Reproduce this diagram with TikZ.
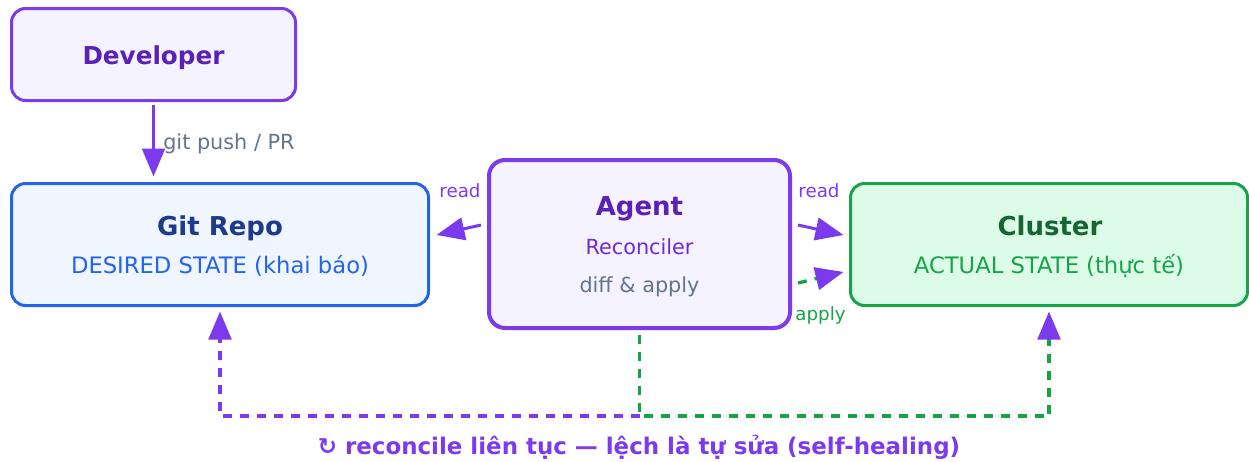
\documentclass[tikz,border=0pt]{standalone}
\usepackage{fontspec}
\setmainfont{DejaVu Sans}
\usetikzlibrary{arrows.meta}

\definecolor{violet}{HTML}{7C3AED}
\definecolor{violetdark}{HTML}{5B21B6}
\definecolor{violetmid}{HTML}{6D28D9}
\definecolor{violetfill}{HTML}{F5F3FF}
\definecolor{bluefg}{HTML}{2563EB}
\definecolor{bluedark}{HTML}{1E3A8A}
\definecolor{bluefill}{HTML}{EFF6FF}
\definecolor{greenfg}{HTML}{16A34A}
\definecolor{greendark}{HTML}{166534}
\definecolor{greenfill}{HTML}{DCFCE7}
\definecolor{slate}{HTML}{64748B}

\begin{document}
\begin{tikzpicture}[
  x=0.75pt, y=-0.75pt,
  box/.style={draw, line width=2.25pt, rounded corners=10.5pt, inner sep=0pt},
  title/.style={anchor=base, inner sep=0pt, font=\fontsize{19.5pt}{22pt}\selectfont\bfseries},
  sub/.style={anchor=base, inner sep=0pt, font=\fontsize{17pt}{20pt}\selectfont},
  note/.style={anchor=base, inner sep=0pt, font=\fontsize{15.6pt}{18pt}\selectfont},
  tag/.style={anchor=base, inner sep=0pt, font=\fontsize{13.7pt}{16pt}\selectfont},
  arr/.style={draw=violet, line width=2.25pt, -{Triangle[length=21pt, width=17pt, color=violet]}},
  loopline/.style={line width=2.5pt, dash pattern=on 6.75pt off 6pt},
]
  \useasboundingbox (0,0) rectangle (1249,461);

  % boxes
  \node[box, draw=violet, fill=violetfill, minimum width=213pt, minimum height=69pt] (dev) at (153.5,54.5) {};
  \node[box, draw=bluefg, fill=bluefill, minimum width=312.75pt, minimum height=91.5pt] (git) at (220,244.5) {};
  \node[box, draw=violet, fill=violetfill, line width=3pt, rounded corners=12pt, minimum width=225.75pt, minimum height=126pt] (agent) at (639.5,244) {};
  \node[box, draw=greenfg, fill=greenfill, minimum width=297.75pt, minimum height=91.5pt] (cluster) at (1049,244.5) {};

  % box texts
  \node[title, text=violetdark, font=\fontsize{18.5pt}{22pt}\selectfont\bfseries] (devtitle) at (153.5,64) {Developer};
  \node[title, text=bluedark] (gittitle) at (220,235) {Git Repo};
  \node[sub, text=bluefg] (gitsub) at (220,273) {DESIRED STATE (khai báo)};
  \node[title, text=violetdark] (agenttitle) at (639.5,215) {Agent};
  \node[note, text=violetmid] (agentsub) at (639.5,254) {Reconciler};
  \node[note, text=slate] (agentnote) at (639.5,292) {diff \& apply};
  \node[title, text=greendark] (clustertitle) at (1050,235) {Cluster};
  \node[sub, text=greenfg] (clustersub) at (1049,273) {ACTUAL STATE (thực tế)};

  % connectors
  \draw[arr, shorten <=2.6pt, shorten >=4.1pt] (dev.south) -- (git.north -| dev.south);
  \node[note, anchor=base west, text=slate] (pushlbl) at (163,149) {git push / PR};

  \draw[arr] ([shift={(-6,-19)}]agent.west) -- ([shift={(6.5,-9.5)}]git.east);
  \node[tag, text=violet] (readgit) at (460,197) {read};

  \draw[arr] ([shift={(6,-19)}]agent.east) -- ([shift={(-5.5,-9.5)}]cluster.west);
  \node[tag, text=violet] (readcluster) at (819,197) {read};

  \draw[arr, draw=greenfg, line width=2.5pt, dash pattern=on 6.75pt off 6pt] ([shift={(6,39)}]agent.east) -- ([shift={(-5.5,27.5)}]cluster.west);
  \node[tag, text=greenfg] (applylbl) at (820.5,320.5) {apply};

  % reconcile loop
  \coordinate (loop) at (639.5,416);
  \draw[arr, loopline, draw=greenfg] ([shift={(0,5)}]agent.south) -- (loop) -- (loop -| cluster.south) -- ([shift={(0,4.5)}]cluster.south);
  \draw[arr, loopline] (loop) -- (loop -| git.south) -- ([shift={(0,4.5)}]git.south);

  \node[anchor=base, inner sep=0pt, text=violet, font=\fontsize{17.2pt}{20pt}\selectfont\bfseries] (looplbl) at (639,454) {↻ reconcile liên tục — lệch là tự sửa (self-healing)};
\end{tikzpicture}
\end{document}
